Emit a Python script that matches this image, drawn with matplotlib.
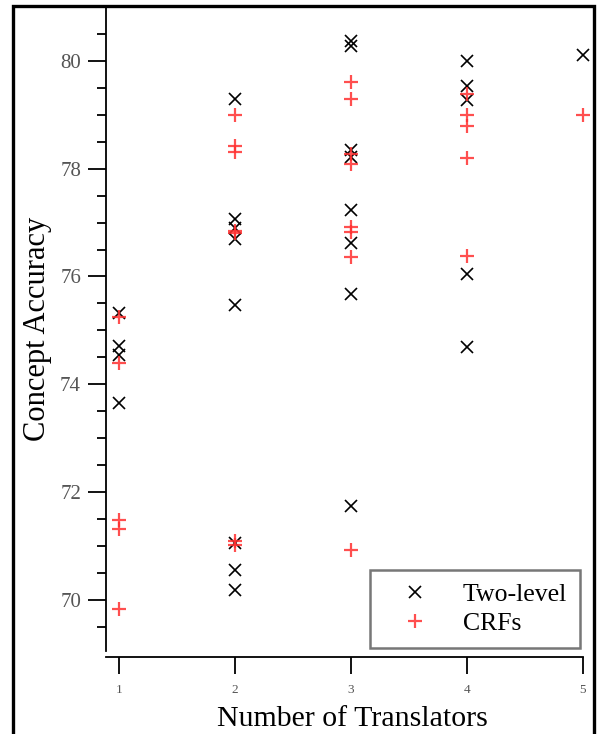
import matplotlib
matplotlib.use("Agg")
from matplotlib import pyplot as plt
from matplotlib.patches import Rectangle
from matplotlib.ticker import MultipleLocator

plt.rcParams['font.family'] = ['Liberation Serif', 'DejaVu Serif']

# number of translators for each run, and the concept accuracy (%)
two_level_n = [1, 1, 1, 1,
               2, 2, 2, 2, 2, 2, 2, 2,
               3, 3, 3, 3, 3, 3, 3, 3,
               4, 4, 4, 4, 4,
               5]
two_level_acc = [75.33, 74.71, 74.55, 73.65,
                 79.29, 77.07, 76.90, 76.70, 75.47, 71.05, 70.55, 70.18,
                 80.36, 80.28, 78.34, 78.21, 77.23, 76.63, 75.67, 71.74,
                 79.99, 79.53, 79.27, 76.05, 74.70,
                 80.11]

crf_n = [1, 1, 1, 1, 1,
         2, 2, 2, 2, 2, 2, 2,
         3, 3, 3, 3, 3, 3, 3, 3,
         4, 4, 4, 4, 4,
         5]
crf_acc = [75.24, 74.40, 71.48, 71.32, 69.83,
           79.00, 78.42, 78.31, 76.85, 76.80, 71.10, 71.02,
           79.61, 79.29, 78.28, 78.09, 76.91, 76.82, 76.37, 70.92,
           79.39, 79.00, 78.80, 78.19, 76.38,
           79.00]

x_ticks = [1, 2, 3, 4, 5]

fig = plt.figure(figsize=(5.97, 7.34), dpi=100)
ax = fig.add_axes([106 / 597, 1 - 651 / 734, 477 / 597, 644 / 734])

ax.plot(two_level_n, two_level_acc, 'x', color='black', markersize=9,
        markeredgewidth=1.2, label='Two-level', zorder=3, clip_on=False)
ax.plot(crf_n, crf_acc, '+', color='#ff3030', markersize=9.5,
        markeredgewidth=1.6, alpha=0.85, label='CRFs', zorder=4,
        clip_on=False)

ax.set_xlim(0.888, 5.0)
ax.set_ylim(69.05, 81.0)
ax.set_xticks(x_ticks)
ax.yaxis.set_major_locator(MultipleLocator(2))
ax.yaxis.set_minor_locator(MultipleLocator(0.5))

ax.spines['top'].set_visible(False)
ax.spines['right'].set_visible(False)
ax.spines['left'].set_linewidth(1.3)
ax.spines['bottom'].set_linewidth(1.3)
ax.spines['bottom'].set_position(('outward', 4))

ax.tick_params(axis='y', which='major', direction='out', length=13,
               width=1.3, labelsize=15, labelcolor='#555555', pad=5)
ax.tick_params(axis='y', which='minor', direction='out', length=6.5,
               width=1.3)
ax.tick_params(axis='x', which='major', direction='out', length=12,
               width=1.3, labelsize=9.5, labelcolor='#555555', pad=8)

ax.set_xlabel('Number of Translators', fontsize=21.5, labelpad=7)
ax.xaxis.label.set_x(0.516)
ax.set_ylabel('Concept Accuracy', fontsize=22, labelpad=6)

leg = ax.legend(loc='lower right', fontsize=18.5, frameon=True, fancybox=False,
                borderaxespad=0.1, handletextpad=0.64, borderpad=0.53,
                labelspacing=0.22, handlelength=2.45)
leg.get_frame().set_edgecolor('#555555')
leg.get_frame().set_linewidth(1.8)

# border around the whole figure
fig.patches.append(Rectangle((13 / 597, -0.05), 581 / 597, 1.05 - 6 / 734,
                             transform=fig.transFigure, fill=False,
                             edgecolor='black', linewidth=2.4, zorder=10))

fig.savefig('out.png', dpi=100)
